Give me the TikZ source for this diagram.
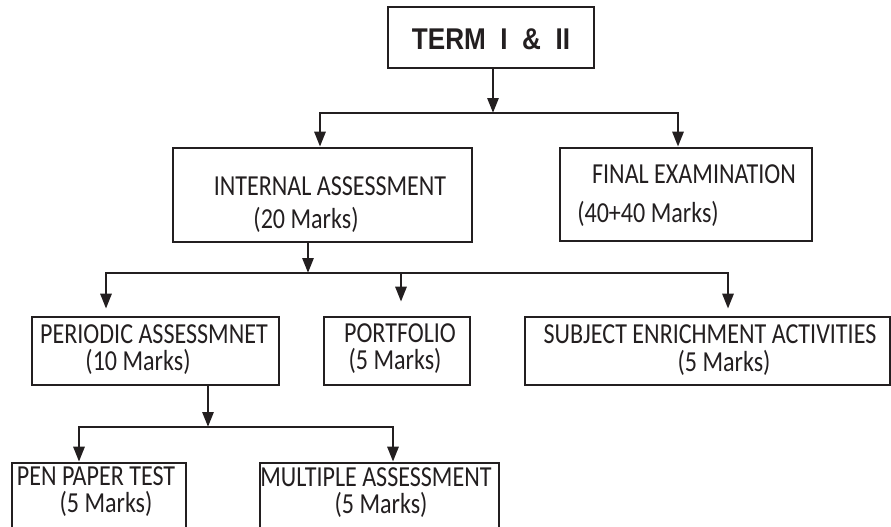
\documentclass[tikz,border=0pt]{standalone}
\usepackage{fontspec}
\setmainfont{Carlito}[FakeStretch=0.83]
\newfontfamily\termfont{Liberation Sans}[FakeStretch=0.87]
\usetikzlibrary{arrows.meta}
\definecolor{ink}{HTML}{231F20}
\tikzset{
  box/.style={draw=ink, line width=2.6pt, rectangle, inner sep=0pt, fill=white},
  lbl/.style={anchor=base, inner sep=0pt, text=ink, text height=19pt, text depth=3pt, font=\fontsize{29}{32}\selectfont},
  conn/.style={draw=ink, line width=2.8pt},
  arr/.style={conn, -{Triangle[width=11pt,length=15pt]}},
  arr2/.style={conn, {Triangle[width=11pt,length=15pt]}-{Triangle[width=11pt,length=15pt]}},
}
\begin{document}
\begin{tikzpicture}[x=1pt,y=-1pt]
\useasboundingbox (0,0) rectangle (891,527);
\clip (0,0) rectangle (891,527);
% boxes
\node[box, minimum width=206pt, minimum height=61pt] (term) at (491,37.5) {};
\node[box, minimum width=299pt, minimum height=94pt] (ia) at (322.5,195) {};
\node[box, minimum width=252pt, minimum height=93pt] (fe) at (686,194.5) {};
\node[box, minimum width=247pt, minimum height=68pt] (pa) at (155.5,351) {};
\node[box, minimum width=146pt, minimum height=68pt] (pf) at (397,351) {};
\node[box, minimum width=365pt, minimum height=68pt] (se) at (707.5,351) {};
\node[box, minimum width=174pt, minimum height=82pt] (pp) at (99,504) {};
\node[box, minimum width=239pt, minimum height=82pt] (ma) at (379.5,504) {};
% texts
\node[anchor=center, inner sep=0pt, text=ink, font=\termfont\bfseries\fontsize{30}{32}\selectfont] (termt) at (491,39) {TERM \ I \ \& \ II};
\node[lbl] (iat1) at (330,195) {INTERNAL ASSESSMENT};
\node[lbl] (iat2) at (306,228) {(20 Marks)};
\node[lbl] (fet1) at (694,183) {FINAL EXAMINATION};
\node[lbl] (fet2) at (648,222) {(40+40 Marks)};
\node[lbl] (pat1) at (154,343) {PERIODIC ASSESSMNET};
\node[lbl] (pat2) at (138,370) {(10 Marks)};
\node[lbl] (pft1) at (400,342) {PORTFOLIO};
\node[lbl] (pft2) at (395,369) {(5 Marks)};
\node[lbl] (set1) at (710,343) {SUBJECT ENRICHMENT ACTIVITIES};
\node[lbl] (set2) at (724,371) {(5 Marks)};
\node[lbl] (ppt1) at (96,485) {PEN PAPER TEST};
\node[lbl] (ppt2) at (106,512) {(5 Marks)};
\node[lbl] (mat1) at (376,486) {MULTIPLE ASSESSMENT};
\node[lbl] (mat2) at (381,513) {(5 Marks)};
% bus coordinates
\coordinate (b1) at (493,113);
\coordinate (b1l) at (320,113);
\coordinate (b1r) at (678,113);
\coordinate (b2) at (308,273);
\coordinate (b2l) at (106,273);
\coordinate (b2m) at (401,273);
\coordinate (b2r) at (728,273);
\coordinate (b3) at (208,427);
\coordinate (b3l) at (79,427);
\coordinate (b3r) at (393,427);
% connectors
\draw[arr] (term.south -| b1) -- (b1);
\draw[arr2] (b1l |- ia.north) -- (b1l) -- (b1r) -- (b1r |- fe.north);
\draw[arr] (ia.south -| b2) -- (b2);
\draw[arr2, shorten <=7pt, shorten >=7pt] (b2l |- pa.north) -- (b2l) -- (b2r) -- (b2r |- se.north);
\draw[arr, shorten >=14pt] (b2m) -- (b2m |- pf.north);
\draw[arr] (pa.south -| b3) -- (b3);
\draw[arr2] (b3l |- pp.north) -- (b3l) -- (b3r) -- (b3r |- ma.north);
\end{tikzpicture}
\end{document}
